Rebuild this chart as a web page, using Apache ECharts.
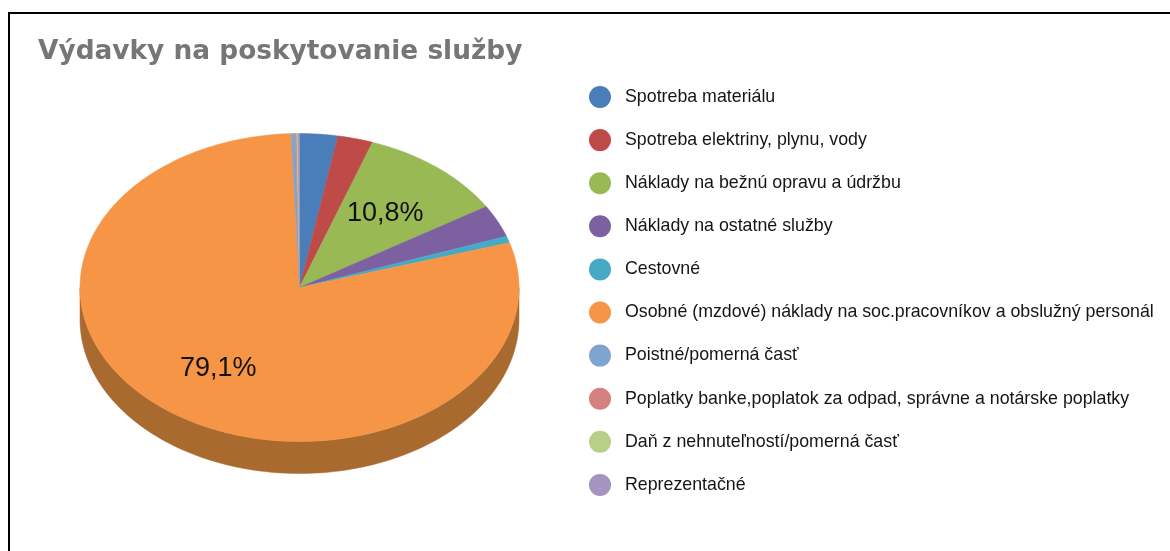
<!DOCTYPE html>
<html>
<head>
<meta charset="utf-8">
<script src="https://cdn.jsdelivr.net/npm/echarts@6/dist/echarts.min.js"></script>
<style>
html, body { margin: 0; padding: 0; background: #fff; }
#main { width: 1170px; height: 551px; }
</style>
</head>
<body>
<div id="main"></div>
<script>
// kategorie a hodnoty (%)
var names = [
    'Spotreba materiálu',
    'Spotreba elektriny, plynu, vody',
    'Náklady na bežnú opravu a údržbu',
    'Náklady na ostatné služby',
    'Cestovné',
    'Osobné (mzdové) náklady na soc.pracovníkov a obslužný personál',
    'Poistné/pomerná časť',
    'Poplatky banke,poplatok za odpad, správne a notárske poplatky',
    'Daň z nehnuteľností/pomerná časť',
    'Reprezentačné'
];
var values = [2.8, 2.6, 10.8, 3.4, 0.7, 79.1, 0.3, 0.1, 0.1, 0.1];

var colors = ['#4a7ebb', '#be4b48', '#98b954', '#7d60a0', '#46aac5', '#f69546',
              '#7ea4cf', '#d4827f', '#b7cf88', '#a593c1'];
var sideColors = ['#2f5688', '#883230', '#6b8439', '#574270', '#2f7a8e', '#a86a2f',
                  '#56769a', '#9a5a58', '#849860', '#756889'];

var myChart = echarts.init(document.getElementById('main'));

// 3D kolac - geometria
var cx = 299.5, cy = 287.5, rx = 219.5, ry = 154, depth = 32;
var total = 0;
for (var i = 0; i < values.length; i++) total += values[i];
var startAngles = [];
var acc = 0;
for (var i = 0; i < values.length; i++) {
    startAngles.push(acc / total * 360);
    acc += values[i];
}

function pt(deg, dy) {
    var r = deg * Math.PI / 180;
    return [cx + rx * Math.sin(r), cy - ry * Math.cos(r) + (dy || 0)];
}
function arc(a0, a1, dy) {
    var pts = [];
    var n = Math.max(2, Math.ceil((a1 - a0) / 1.5));
    for (var k = 0; k <= n; k++) {
        pts.push(pt(a0 + (a1 - a0) * k / n, dy));
    }
    return pts;
}

function renderItem(params, api) {
    var idx = params.dataIndex;
    var v = api.value(0);
    var a0 = startAngles[idx];
    var a1 = a0 + v / total * 360;
    var children = [];

    // bocna stena (len predna cast)
    var s0 = Math.max(a0, 90), s1 = Math.min(a1, 270);
    if (s0 < s1) {
        var top = arc(s0, s1, 0);
        var bottom = arc(s0, s1, depth).reverse();
        children.push({
            type: 'polygon',
            z2: 1,
            shape: { points: top.concat(bottom) },
            style: { fill: sideColors[idx], stroke: sideColors[idx], lineWidth: 0.5 }
        });
    }

    // horna plocha
    children.push({
        type: 'polygon',
        z2: 10,
        shape: { points: [[cx, cy]].concat(arc(a0, a1, 0)) },
        style: { fill: colors[idx], stroke: colors[idx], lineWidth: 0.5 }
    });

    // popisok
    var pct = v / total * 100;
    if (pct > 5) {
        var mid = (a0 + a1) / 2 * Math.PI / 180;
        children.push({
            type: 'text',
            z2: 20,
            x: cx + rx * 0.63 * Math.sin(mid) - 1,
            y: cy - ry * 0.63 * Math.cos(mid) + 2,
            style: {
                text: pct.toFixed(1).replace('.', ',') + '%',
                fontFamily: 'Liberation Sans, Arial, sans-serif',
                fontSize: 27,
                fill: '#111',
                align: 'center',
                verticalAlign: 'middle'
            }
        });
    }
    return { type: 'group', children: children };
}

var pieData = [];
var customData = [];
for (var i = 0; i < names.length; i++) {
    pieData.push({ name: names[i], value: values[i], itemStyle: { color: colors[i] } });
    customData.push([values[i]]);
}

option = {
    backgroundColor: '#fff',
    animation: false,
    title: {
        text: 'Výdavky na poskytovanie služby',
        left: 33,
        top: 34,
        textStyle: {
            fontFamily: 'DejaVu Sans, sans-serif',
            fontWeight: 'bold',
            fontSize: 26.4,
            color: '#767676'
        }
    },
    legend: {
        orient: 'vertical',
        left: 584,
        top: 81,
        itemWidth: 22,
        itemHeight: 22,
        itemGap: 21.1,
        icon: 'circle',
        data: names,
        textStyle: {
            fontFamily: 'Liberation Sans, Arial, sans-serif',
            fontSize: 17.8,
            color: '#151515',
            padding: [0, 0, 0, 9]
        }
    },
    graphic: [{
        type: 'rect',
        shape: { x: 9, y: 13, width: 1200, height: 600 },
        style: { fill: 'none', stroke: '#000', lineWidth: 2 }
    }],
    series: [
        {
            // len pre legendu, mimo platna
            type: 'pie',
            center: [-3000, -3000],
            radius: 10,
            silent: true,
            label: { show: false },
            labelLine: { show: false },
            data: pieData
        },
        {
            type: 'custom',
            coordinateSystem: 'none',
            renderItem: renderItem,
            data: customData
        }
    ]
};

myChart.setOption(option);
window.addEventListener('resize', function () {
    myChart.resize();
});
</script>
</body>
</html>
